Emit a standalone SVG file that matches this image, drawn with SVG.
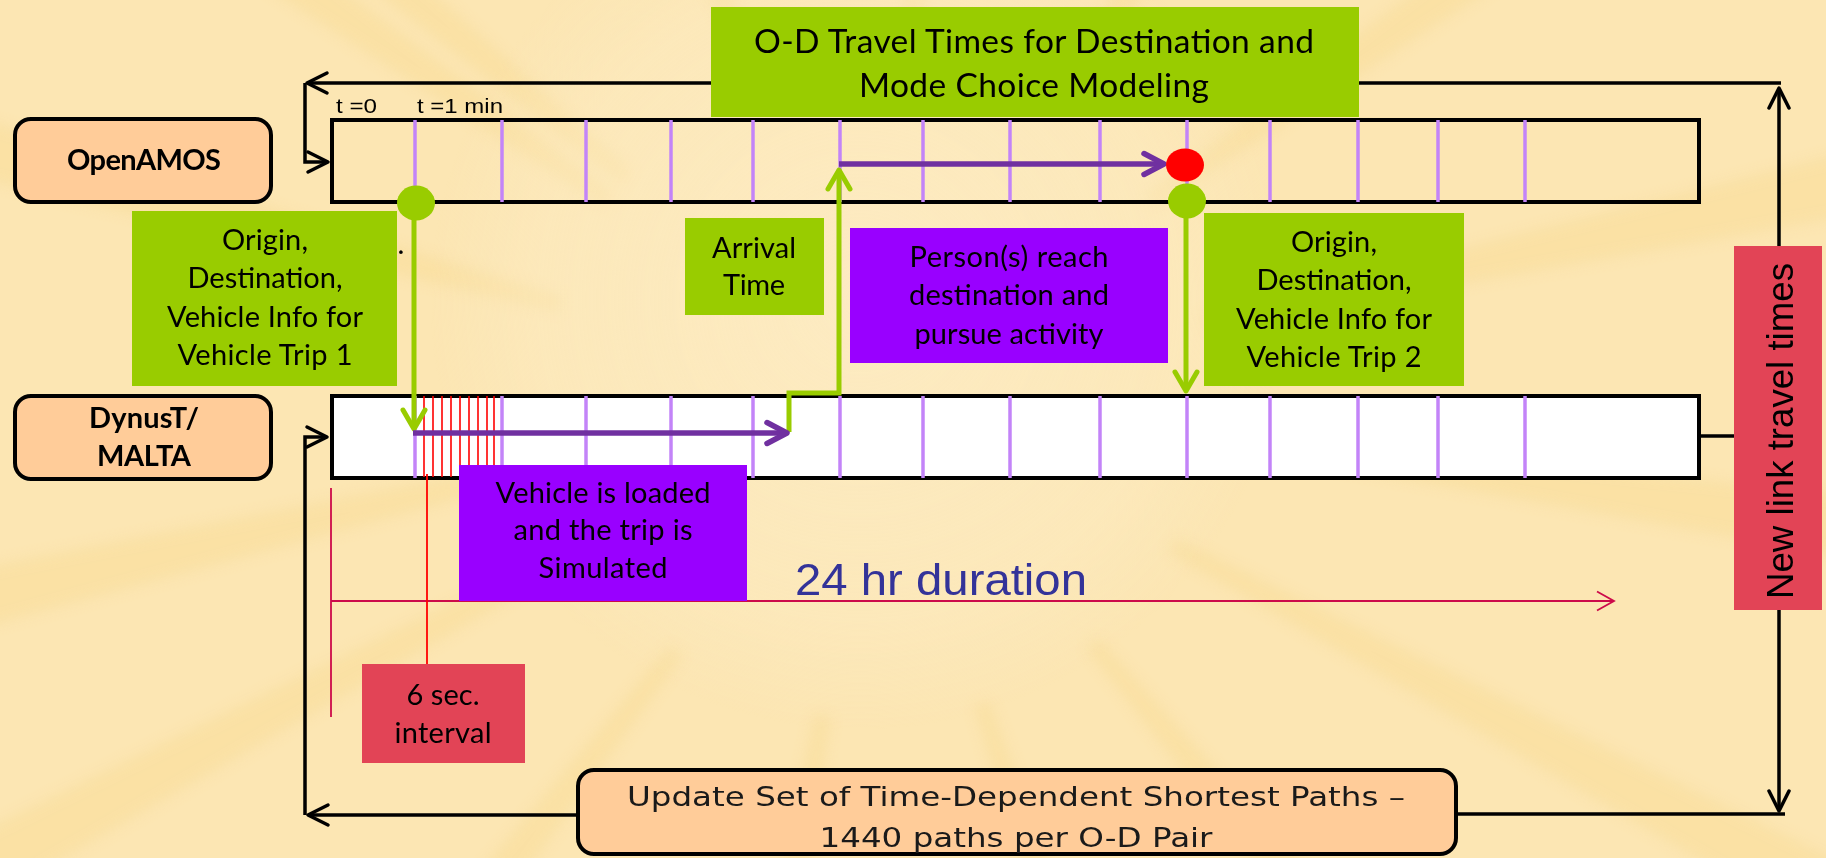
<svg xmlns="http://www.w3.org/2000/svg" xmlns:xlink="http://www.w3.org/1999/xlink" width="1826" height="858" viewBox="0 0 1826 858">
<defs>
<style>
.lbl{font-family:Lato,"Liberation Sans",sans-serif;font-size:29px;fill:#000;text-anchor:middle}
.b{font-weight:bold}
.od{font-size:33.5px}
.ar{font-family:"Liberation Sans",Arial,sans-serif}
.upd{font-family:"DejaVu Sans",sans-serif;font-size:27px;fill:#1a1a1a;text-anchor:middle}
.peach{fill:#FFCC99;stroke:#000;stroke-width:4}
.green{fill:#99CC00}
.violet{fill:#9900FF}
.redbox{fill:#E24456}
.tl{stroke:#000;stroke-width:4}
.tick{stroke:#C384F8;stroke-width:3.5}
.rtick{stroke:#FF0000;stroke-width:1.6}
.blk{fill:none;stroke:#000;stroke-width:3.5}
.gln{fill:none;stroke:#99CC00;stroke-width:5}
.pln{fill:none;stroke:#7030A0;stroke-width:5.5}
.cln{fill:none;stroke:#CC0A4A;stroke-width:1.8}
</style>
<radialGradient id="glow" gradientUnits="userSpaceOnUse" cx="860" cy="300" r="430">
<stop offset="0" stop-color="#FDEDC8" stop-opacity="0.7"/>
<stop offset="0.75" stop-color="#FDEDC8" stop-opacity="0.35"/>
<stop offset="1" stop-color="#FDEDC8" stop-opacity="0"/>
</radialGradient>
<filter id="soft" x="-10%" y="-10%" width="120%" height="120%"><feGaussianBlur stdDeviation="7"/></filter>
<polygon id="ray" points="330,-8 1400,-46 1400,46 330,8"/>
<marker id="ab" markerUnits="userSpaceOnUse" viewBox="-26 -16 30 32" markerWidth="30" markerHeight="32" refX="0" refY="0" orient="auto" overflow="visible">
<path d="M-20,-10 L0,0 L-20,10" fill="none" stroke="#000" stroke-width="3.5" stroke-linejoin="round" stroke-linecap="round"/>
</marker>
<marker id="ag" markerUnits="userSpaceOnUse" viewBox="-26 -16 30 32" markerWidth="30" markerHeight="32" refX="0" refY="0" orient="auto" overflow="visible">
<path d="M-19,-11 L0,0 L-19,11" fill="none" stroke="#99CC00" stroke-width="5" stroke-linejoin="round" stroke-linecap="round"/>
</marker>
<marker id="ap" markerUnits="userSpaceOnUse" viewBox="-26 -16 30 32" markerWidth="30" markerHeight="32" refX="0" refY="0" orient="auto" overflow="visible">
<path d="M-20,-10.5 L0,0 L-20,10.5" fill="none" stroke="#7030A0" stroke-width="5.5" stroke-linejoin="round" stroke-linecap="round"/>
</marker>
<marker id="ac" markerUnits="userSpaceOnUse" viewBox="-26 -16 30 32" markerWidth="30" markerHeight="32" refX="0" refY="0" orient="auto" overflow="visible">
<path d="M-17,-9.5 L0,0 L-17,9.5" fill="none" stroke="#CC0A4A" stroke-width="1.8"/>
</marker>
</defs>

<g id="background">
<rect x="0" y="0" width="1826" height="858" fill="#FCE6B3"/>
<g transform="translate(880,390)" fill="#F7D684" opacity="0.3" filter="url(#soft)">
<use xlink:href="#ray" transform="rotate(167)"/>
<use xlink:href="#ray" transform="rotate(152)"/>
<use xlink:href="#ray" transform="rotate(195)"/>
<use xlink:href="#ray" transform="rotate(215)"/>
<use xlink:href="#ray" transform="rotate(128)"/>
<use xlink:href="#ray" transform="rotate(100)"/>
<use xlink:href="#ray" transform="rotate(72)"/>
<use xlink:href="#ray" transform="rotate(50)"/>
<use xlink:href="#ray" transform="rotate(28)"/>
<use xlink:href="#ray" transform="rotate(8)"/>
<use xlink:href="#ray" transform="rotate(-12)"/>
<use xlink:href="#ray" transform="rotate(-35)"/>
<use xlink:href="#ray" transform="rotate(-58)"/>
<use xlink:href="#ray" transform="rotate(-85)"/>
<use xlink:href="#ray" transform="rotate(-112)"/>
<use xlink:href="#ray" transform="rotate(-140)"/>
</g>
<rect x="0" y="0" width="1826" height="858" fill="url(#glow)"/>
</g>

<g id="timeline-openamos">
<rect x="332" y="120" width="1367" height="82" fill="none" class="tl"/>
<g class="tick">
<line x1="415" y1="120" x2="415" y2="202"/>
<line x1="502" y1="120" x2="502" y2="202"/>
<line x1="586" y1="120" x2="586" y2="202"/>
<line x1="671" y1="120" x2="671" y2="202"/>
<line x1="753" y1="120" x2="753" y2="202"/>
<line x1="840" y1="120" x2="840" y2="202"/>
<line x1="923" y1="120" x2="923" y2="202"/>
<line x1="1010" y1="120" x2="1010" y2="202"/>
<line x1="1100" y1="120" x2="1100" y2="202"/>
<line x1="1187" y1="120" x2="1187" y2="202"/>
<line x1="1270" y1="120" x2="1270" y2="202"/>
<line x1="1358" y1="120" x2="1358" y2="202"/>
<line x1="1438" y1="120" x2="1438" y2="202"/>
<line x1="1525" y1="120" x2="1525" y2="202"/>
</g>
<text class="ar" x="336" y="113" font-size="20" textLength="41" lengthAdjust="spacingAndGlyphs">t =0</text>
<text class="ar" x="417" y="113" font-size="20" textLength="86" lengthAdjust="spacingAndGlyphs">t =1 min</text>
</g>

<g id="timeline-dynust">
<rect x="332" y="396" width="1367" height="82" fill="#FFFFFF" class="tl"/>
<g class="tick">
<line x1="415" y1="396" x2="415" y2="478"/>
<line x1="502" y1="396" x2="502" y2="478"/>
<line x1="586" y1="396" x2="586" y2="478"/>
<line x1="671" y1="396" x2="671" y2="478"/>
<line x1="753" y1="396" x2="753" y2="478"/>
<line x1="840" y1="396" x2="840" y2="478"/>
<line x1="923" y1="396" x2="923" y2="478"/>
<line x1="1010" y1="396" x2="1010" y2="478"/>
<line x1="1100" y1="396" x2="1100" y2="478"/>
<line x1="1187" y1="396" x2="1187" y2="478"/>
<line x1="1270" y1="396" x2="1270" y2="478"/>
<line x1="1358" y1="396" x2="1358" y2="478"/>
<line x1="1438" y1="396" x2="1438" y2="478"/>
<line x1="1525" y1="396" x2="1525" y2="478"/>
</g>
<g class="rtick">
<line x1="424" y1="396" x2="424" y2="477"/>
<line x1="433" y1="396" x2="433" y2="477"/>
<line x1="442" y1="396" x2="442" y2="477"/>
<line x1="451" y1="396" x2="451" y2="477"/>
<line x1="460" y1="396" x2="460" y2="477"/>
<line x1="469" y1="396" x2="469" y2="477"/>
<line x1="478" y1="396" x2="478" y2="477"/>
<line x1="487" y1="396" x2="487" y2="477"/>
<line x1="494" y1="396" x2="494" y2="477"/>
</g>
</g>

<g id="connectors">
<path class="blk" d="M1781 83 H307" marker-end="url(#ab)"/>
<path class="blk" d="M305 83 V162 H328" marker-end="url(#ab)"/>
<path class="blk" d="M1779 246 V88" marker-end="url(#ab)"/>
<path class="blk" d="M1699 436 H1735"/>
<path class="blk" d="M1779 610 V811" marker-end="url(#ab)"/>
<path class="blk" d="M1785 814 H1456"/>
<path class="blk" d="M578 815 H308" marker-end="url(#ab)"/>
<path class="blk" d="M305 815 V437 H327" marker-end="url(#ab)"/>
<path class="gln" d="M414 205 V429" marker-end="url(#ag)"/>
<path class="gln" d="M789 432 V393 H839 V170" marker-end="url(#ag)"/>
<path class="gln" d="M1186 203 V391" marker-end="url(#ag)"/>
<path class="pln" d="M413 433 H787" marker-end="url(#ap)"/>
<path class="pln" d="M839 164 H1164" marker-end="url(#ap)"/>
<path class="cln" d="M331 488 V717"/>
<path class="cln" d="M331 601 H1614" marker-end="url(#ac)"/>
<path fill="none" stroke="#FF0000" stroke-width="1.8" d="M427 474 V664"/>
</g>

<g id="events">
<ellipse cx="416" cy="203" rx="19" ry="17.5" fill="#99CC00"/>
<ellipse cx="1185" cy="165" rx="19" ry="16.5" fill="#FF0000"/>
<ellipse cx="1187" cy="201" rx="19" ry="17.5" fill="#99CC00"/>
</g>

<g id="node-openamos">
<rect x="15" y="119" width="256" height="83" rx="16" class="peach"/>
<text class="lbl b" x="144" y="170" textLength="154">OpenAMOS</text>
</g>

<g id="node-dynust">
<rect x="15" y="396" width="256" height="83" rx="16" class="peach"/>
<text class="lbl b" x="144" y="428" textLength="110">DynusT/</text>
<text class="lbl b" x="144" y="466" textLength="94">MALTA</text>
</g>

<g id="node-od-travel-times">
<rect x="711" y="7" width="648" height="110" class="green"/>
<text class="lbl od" x="1034" y="53" textLength="560">O-D Travel Times for Destination and</text>
<text class="lbl od" x="1034" y="97" textLength="350">Mode Choice Modeling</text>
</g>

<g id="node-trip1-info">
<rect x="132" y="211" width="265" height="175" class="green"/>
<text class="lbl" x="265" y="250" textLength="86">Origin,</text>
<text class="lbl" x="265" y="288" textLength="155">Destination,</text>
<text class="lbl" x="265" y="327" textLength="196">Vehicle Info for</text>
<text class="lbl" x="265" y="365" textLength="175">Vehicle Trip 1</text>
<text class="lbl" x="401" y="254" font-size="14">.</text>
</g>

<g id="node-arrival-time">
<rect x="685" y="218" width="139" height="97" class="green"/>
<text class="lbl" x="754" y="258" textLength="84">Arrival</text>
<text class="lbl" x="754" y="295" textLength="62">Time</text>
</g>

<g id="node-person-activity">
<rect x="850" y="228" width="318" height="135" class="violet"/>
<text class="lbl" x="1009" y="267" textLength="199">Person(s) reach</text>
<text class="lbl" x="1009" y="305" textLength="200">destination and</text>
<text class="lbl" x="1009" y="344" textLength="189">pursue activity</text>
</g>

<g id="node-trip2-info">
<rect x="1204" y="213" width="260" height="173" class="green"/>
<text class="lbl" x="1334" y="252" textLength="86">Origin,</text>
<text class="lbl" x="1334" y="290" textLength="155">Destination,</text>
<text class="lbl" x="1334" y="329" textLength="196">Vehicle Info for</text>
<text class="lbl" x="1334" y="367" textLength="175">Vehicle Trip 2</text>
</g>

<g id="node-vehicle-loaded">
<rect x="459" y="465" width="288" height="136" class="violet"/>
<text class="lbl" x="603" y="503" textLength="215">Vehicle is loaded</text>
<text class="lbl" x="603" y="540" textLength="179">and the trip is</text>
<text class="lbl" x="603" y="578" textLength="129">Simulated</text>
</g>

<g id="node-6sec">
<rect x="362" y="664" width="163" height="99" class="redbox"/>
<text class="lbl" x="443" y="705" textLength="73">6 sec.</text>
<text class="lbl" x="443" y="743" textLength="97">interval</text>
</g>

<g id="label-24hr">
<text class="ar" x="941" y="595" font-size="44" fill="#333399" text-anchor="middle" textLength="292" lengthAdjust="spacingAndGlyphs">24 hr duration</text>
</g>

<g id="node-new-link-times">
<rect x="1734" y="246" width="88" height="364" class="redbox"/>
<text class="ar" x="0" y="0" transform="translate(1793,431) rotate(-90)" font-size="37" text-anchor="middle" textLength="336" lengthAdjust="spacingAndGlyphs">New link travel times</text>
</g>

<g id="node-update-paths">
<rect x="578" y="770" width="878" height="84" rx="16" class="peach"/>
<text class="upd" x="1016" y="806" textLength="778" lengthAdjust="spacingAndGlyphs">Update Set of Time-Dependent Shortest Paths –</text>
<text class="upd" x="1016" y="847" textLength="393" lengthAdjust="spacingAndGlyphs">1440 paths per O-D Pair</text>
</g>
</svg>
